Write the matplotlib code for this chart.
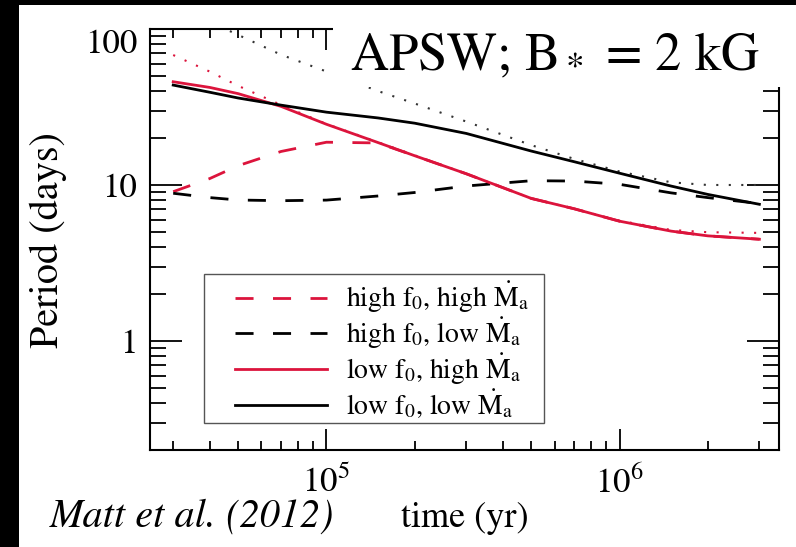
import matplotlib
matplotlib.use('Agg')
import matplotlib.pyplot as plt
from matplotlib.patches import Rectangle
from matplotlib.ticker import FixedLocator, FixedFormatter, NullFormatter, LogLocator

# Times-like text: STIX ships with matplotlib
plt.rcParams['font.family'] = ['STIXGeneral', 'DejaVu Serif']
plt.rcParams['mathtext.fontset'] = 'stix'

# Stellar spin period vs age
time_yr = [3e4, 4e4, 5e4, 7e4, 1e5, 1.5e5, 2e5, 3e5, 5e5, 7e5, 1e6, 1.5e6, 2e6, 3e6]

high_f0_high_mdot = [9.06, 11.0, 13.3, 16.4, 18.8, 18.6, 15.4, 11.8, 8.2, 7.04, 5.86, 5.06, 4.72, 4.49]
high_f0_low_mdot = [8.85, 8.30, 8.01, 7.93, 8.0, 8.5, 8.95, 9.85, 10.65, 10.6, 10.1, 8.9, 8.3, 7.6]
low_f0_high_mdot = [45.9, 42.2, 38.5, 31.9, 24.5, 18.7, 15.4, 11.8, 8.2, 7.04, 5.86, 5.06, 4.72, 4.49]
low_f0_low_mdot = [43.7, 39.3, 36.1, 32.5, 29.3, 26.9, 24.9, 21.4, 16.5, 14.1, 11.9, 9.84, 8.7, 7.52]

# dotted reference curves
ref_high_mdot = [68.1, 53.3, 43.2, 32.6, 24.6, 18.8, 15.5, 11.8, 8.2, 7.04, 5.9, 5.15, 4.98, 4.93]
ref_low_mdot = [143.0, 111.0, 91.6, 68.4, 53.4, 40.0, 33.3, 25.5, 18.0, 14.7, 12.2, 10.4, 10.0, 10.0]

labels = [r'high $\mathrm{f}_0$, high $\dot{\mathrm{M}}_\mathrm{a}$',
          r'high $\mathrm{f}_0$, low $\dot{\mathrm{M}}_\mathrm{a}$',
          r'low $\mathrm{f}_0$, high $\dot{\mathrm{M}}_\mathrm{a}$',
          r'low $\mathrm{f}_0$, low $\dot{\mathrm{M}}_\mathrm{a}$']

y_ticks = [1, 10, 100]
y_ticklabels = ['1', '10', '100']
x_ticks = [1e5, 1e6]
x_ticklabels = [r'$10^5$', r'$10^6$']

W, H = 796, 547
red = '#dc143c'

fig = plt.figure(figsize=(W / 100, H / 100), dpi=100, facecolor='black')
# white page with black strip on the left/top
fig.add_artist(Rectangle((19 / W, 0), 1 - 19 / W, 1 - 5 / H, transform=fig.transFigure,
                         facecolor='white', edgecolor='none', zorder=-10))

ax = fig.add_axes([150 / W, 1 - 450 / H, 629 / W, 421 / H])

dash = (0, (6.5, 7))
ax.plot(time_yr, ref_high_mdot, color=red, lw=1.5, ls=(0, (1, 5)))
ax.plot(time_yr, ref_low_mdot, color='#333333', lw=1.5, ls=(0, (1, 5)))
l1, = ax.plot(time_yr, high_f0_high_mdot, color=red, lw=2, ls=dash)
l2, = ax.plot(time_yr, high_f0_low_mdot, color='black', lw=2, ls=dash)
l3, = ax.plot(time_yr, low_f0_high_mdot, color=red, lw=2)
l4, = ax.plot(time_yr, low_f0_low_mdot, color='black', lw=2)

ax.set_xscale('log')
ax.set_yscale('log')
ax.set_xlim(2.5e4, 3.5e6)
ax.set_ylim(0.2, 100)

ax.yaxis.set_major_locator(FixedLocator(y_ticks))
ax.yaxis.set_major_formatter(FixedFormatter(y_ticklabels))
ax.yaxis.set_minor_locator(LogLocator(base=10, subs=range(2, 10)))
ax.yaxis.set_minor_formatter(NullFormatter())
ax.xaxis.set_major_locator(FixedLocator(x_ticks))
ax.xaxis.set_major_formatter(FixedFormatter(x_ticklabels))
ax.xaxis.set_minor_locator(LogLocator(base=10, subs=range(2, 10)))
ax.xaxis.set_minor_formatter(NullFormatter())

ax.tick_params(which='both', direction='in', top=True, right=True, width=1.3, labelsize=25)
ax.tick_params(axis='y', which='major', length=23, pad=9)
ax.tick_params(axis='y', which='minor', length=11.5)
ax.tick_params(axis='x', which='major', length=15, pad=12)
ax.tick_params(axis='x', which='minor', length=6.5)
for s in ax.spines.values():
    s.set_linewidth(1.5)

# the "100" label sits below its tick
for tick, loc in zip(ax.yaxis.get_major_ticks(), y_ticks):
    if loc == 100:
        tick.label1.set_verticalalignment('top')

# legend with a separate square frame
ax.legend([l1, l2, l3, l4], labels, loc='upper left', bbox_to_anchor=(235 / W, 1 - 280 / H),
          bbox_transform=fig.transFigure, frameon=False, borderpad=0, borderaxespad=0,
          fontsize=20, handlelength=3.3, handletextpad=0.7, labelspacing=0.02)
fig.add_artist(Rectangle((204 / W, 1 - 423 / H), 340 / W, 149 / H, transform=fig.transFigure,
                         fill=False, edgecolor='#555555', lw=1, zorder=4))

# title on a white box covering the top right of the frame
fig.add_artist(Rectangle((333 / W, 1 - 87 / H), 452 / W, 82 / H, transform=fig.transFigure,
                         facecolor='white', edgecolor='none', zorder=5))
fig.text(555 / W, 1 - 70 / H, r'APSW; $\mathrm{B}_*$ = 2 kG', fontsize=38,
         ha='center', va='baseline', zorder=6)

fig.text(48 / W, 1 - 240 / H, 'Period (days)', fontsize=29, rotation=90,
         ha='center', va='center')
fig.text(465 / W, 1 - 527 / H, 'time (yr)', fontsize=26, ha='center', va='baseline')
fig.text(50 / W, 1 - 527 / H, 'Matt et al. (2012)', fontsize=29, style='italic',
         ha='left', va='baseline')

fig.savefig('out.png', dpi=100)
